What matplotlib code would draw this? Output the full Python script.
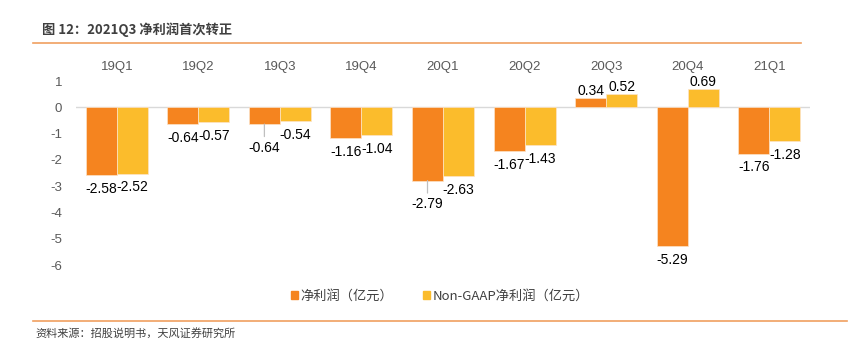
import matplotlib.pyplot as plt
import numpy as np
from matplotlib.lines import Line2D
from matplotlib.patches import Patch

# --- DATA ---
quarters = ["19Q1", "19Q2", "19Q3", "19Q4", "20Q1", "20Q2", "20Q3", "20Q4", "21Q1"]
net_profit = [-2.58, -0.64, -0.64, -1.16, -2.79, -1.67, 0.34, -5.29, -1.76]
non_gaap = [-2.52, -0.57, -0.54, -1.04, -2.63, -1.43, 0.52, 0.69, -1.28]
series_names = ["净利润（亿元）", "Non-GAAP净利润（亿元）"]
yticks = [1, 0, -1, -2, -3, -4, -5, -6]

# labels pushed down with a leader line (series index, category index)
leader_labels = {(0, 2), (0, 4)}

ORANGE = "#F5841F"
YELLOW = "#FBBC2C"
GRAY = "#595959"
LINE_ORANGE = "#F0A060"

NUM_FONT = ["Liberation Sans", "DejaVu Sans"]
CJK_FONT = ["Noto Sans CJK SC", "DejaVu Sans"]

fig = plt.figure(figsize=(8.61, 3.39), dpi=100)
ax = fig.add_axes([76 / 861, 1 - 265 / 339, (810 - 76) / 861, 184 / 339])

x = np.arange(len(quarters))
w = 0.38
colors = [ORANGE, YELLOW]
for si, vals in enumerate([net_profit, non_gaap]):
    xs = x + (si - 0.5) * w
    ax.bar(xs, vals, width=w, color=colors[si], edgecolor="#FDE3C8", linewidth=0.5, zorder=2)
    for ci, (xi, v) in enumerate(zip(xs, vals)):
        if v >= 0:
            off = 5
        elif (si, ci) in leader_labels:
            off = -17
        else:
            off = -10
        kw = {}
        if (si, ci) in leader_labels:
            kw["arrowprops"] = dict(arrowstyle="-", color="#BFBFBF", lw=0.9,
                                    shrinkA=1, shrinkB=0)
        ax.annotate(f"{v:.2f}", xy=(xi, v), xytext=(0, off), textcoords="offset points",
                    ha="center", va="center", fontsize=10, color="black",
                    family=NUM_FONT, **kw)

ax.axhline(0, color="#D9D9D9", lw=1, zorder=1)
ax.set_xlim(-0.5, len(quarters) - 0.5)
ax.set_ylim(-6, 1)
ax.set_yticks(yticks)
ax.set_yticklabels([str(t) for t in yticks], family=NUM_FONT, fontsize=9.5, color=GRAY)
ax.tick_params(axis="y", length=0, pad=10)
ax.xaxis.tick_top()
ax.set_xticks(x)
ax.set_xticklabels(quarters, family=NUM_FONT, fontsize=9.5, color=GRAY)
ax.tick_params(axis="x", length=0, pad=6)
for s in ax.spines.values():
    s.set_visible(False)

# legend
handles = [Patch(color=c) for c in colors]
fig.legend(handles, series_names, loc="center", bbox_to_anchor=(440 / 861, 1 - 296 / 339),
           ncol=2, frameon=False, prop={"family": CJK_FONT, "size": 9.5},
           handlelength=0.55, handleheight=0.55, handletextpad=0.2, columnspacing=2.2,
           labelcolor="#404040")

# title and rules
fig.text(42 / 861, 1 - 30 / 339, "图 12：2021Q3 净利润首次转正", family=CJK_FONT,
         fontsize=9.5, fontweight="bold", color="#404040", va="center", ha="left")
fig.add_artist(Line2D([33 / 861, 801 / 861], [1 - 43 / 339] * 2, color=LINE_ORANGE, lw=1.2))
fig.add_artist(Line2D([33 / 861, 847 / 861], [1 - 321 / 339] * 2, color=LINE_ORANGE, lw=1.2))
fig.text(35 / 861, 1 - 333 / 339, "资料来源：招股说明书，天风证券研究所", family=CJK_FONT,
         fontsize=8, color="#404040", va="center", ha="left")

fig.savefig("out.png", dpi=100)
